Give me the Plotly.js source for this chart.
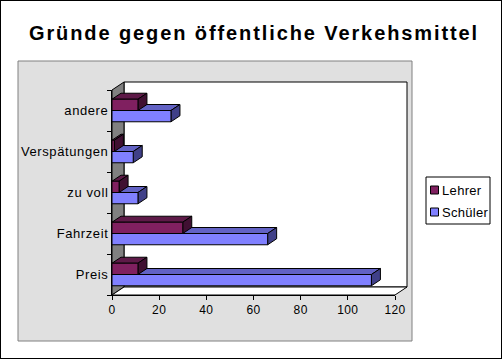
<!DOCTYPE html>
<html>
<head>
<meta charset="utf-8">
<script src="https://cdn.plot.ly/plotly-3.0.1.min.js"></script>
<style>
  html, body { margin: 0; padding: 0; background: #ffffff; }
  #wrap { position: relative; width: 502px; height: 359px; }
  #chart { position: absolute; left: 0; top: 0; width: 502px; height: 359px; }
  #frame { position: absolute; left: 0; top: 0; width: 502px; height: 359px; box-sizing: border-box; border: 1px solid #000; pointer-events: none; }
  #chart .gtitle { letter-spacing: 1.9px; }
  #chart .ytick text { letter-spacing: 0.6px; }
  #chart .xtick text { letter-spacing: 0.4px; }
  #chart .annotation-text { letter-spacing: 0.3px; }
</style>
</head>
<body>
<div id="wrap"><div id="chart"></div><div id="frame"></div></div>
<script>
// ---- data ----
const categories = ['Preis', 'Fahrzeit', 'zu voll', 'Verspätungen', 'andere'];
const lehrer = [11, 30, 3, 1, 11];
const schueler = [110, 66, 11, 9, 25];
const seriesNames = ['Lehrer', 'Schüler'];
const xTicks = [0, 20, 40, 60, 80, 100, 120];

// ---- geometry / style ----
const W = 502, H = 359;
const M = {l: 112, r: 107, t: 90, b: 64, autoexpand: false};
const plotW = W - M.l - M.r, plotH = H - M.t - M.b;
const xMax = 120;
const nCat = categories.length;
const bargap = 0.45;
const barW = (1 - bargap) / 2;
const barDepth = {dx: 9, dy: 6};
const wallDepth = {dx: 12, dy: 8};
const uX = xMax / plotW;
const uY = nCat / plotH;

const colors = {
  Lehrer: {front: '#802060', top: '#5e1a48', side: '#401032'},
  'Schüler': {front: '#8080ff', top: '#6262c4', side: '#404088'}
};

// page pixel -> paper coordinates
const pX = px => (px - M.l) / plotW;
const pY = py => (M.t + plotH - py) / plotH;
const dpX = px => px / plotW;
const dpY = py => py / plotH;

const shapes = [];
// gray chart area
shapes.push({type: 'rect', xref: 'paper', yref: 'paper', layer: 'below',
  x0: pX(18), x1: pX(412), y0: pY(341), y1: pY(61),
  fillcolor: '#e0e0e0', line: {color: '#808080', width: 1}});
// back wall
shapes.push({type: 'rect', xref: 'paper', yref: 'paper', layer: 'below',
  x0: dpX(wallDepth.dx), x1: 1 + dpX(wallDepth.dx), y0: dpY(wallDepth.dy), y1: 1 + dpY(wallDepth.dy),
  fillcolor: '#ffffff', line: {color: '#000000', width: 1}});
// left wall
shapes.push({type: 'path', xref: 'paper', yref: 'paper', layer: 'below',
  path: `M0,0 L0,1 L${dpX(wallDepth.dx)},${1 + dpY(wallDepth.dy)} L${dpX(wallDepth.dx)},${dpY(wallDepth.dy)} Z`,
  fillcolor: '#808080', line: {color: '#000000', width: 1}});
// floor
shapes.push({type: 'path', xref: 'paper', yref: 'paper', layer: 'below',
  path: `M0,0 L1,0 L${1 + dpX(wallDepth.dx)},${dpY(wallDepth.dy)} L${dpX(wallDepth.dx)},${dpY(wallDepth.dy)} Z`,
  fillcolor: '#ffffff', line: {color: '#000000', width: 1}});

// 3D faces of bars (computed from the data values)
const dX = barDepth.dx * uX, dY = barDepth.dy * uY;
function faces(vals, name, offset) {
  vals.forEach((v, i) => {
    const y0 = i + offset, y1 = y0 + barW;
    shapes.push({type: 'path', xref: 'x', yref: 'y', layer: 'below',
      path: `M0,${y1} L${v},${y1} L${v + dX},${y1 + dY} L${dX},${y1 + dY} Z`,
      fillcolor: colors[name].top, line: {color: '#000000', width: 1}});
    shapes.push({type: 'path', xref: 'x', yref: 'y', layer: 'below',
      path: `M${v},${y0} L${v},${y1} L${v + dX},${y1 + dY} L${v + dX},${y0 + dY} Z`,
      fillcolor: colors[name].side, line: {color: '#000000', width: 1}});
  });
}
faces(schueler, 'Schüler', -barW);
faces(lehrer, 'Lehrer', 0);

const font = {family: 'Liberation Sans, Arial, sans-serif', color: '#000000'};

// legend (box, swatches, labels)
const legendBox = {x0: 426, x1: 490, y0: 177, y1: 224};
const legendRows = [190, 212];
const annotations = [];
shapes.push({type: 'rect', xref: 'paper', yref: 'paper', layer: 'above',
  x0: pX(legendBox.x0), x1: pX(legendBox.x1), y0: pY(legendBox.y1), y1: pY(legendBox.y0),
  fillcolor: '#ffffff', line: {color: '#000000', width: 1}});
seriesNames.forEach((name, k) => {
  const cy = legendRows[k];
  shapes.push({type: 'rect', xref: 'paper', yref: 'paper', layer: 'above',
    x0: pX(430.5), x1: pX(438.5), y0: pY(cy + 4), y1: pY(cy - 4),
    fillcolor: colors[name].front, line: {color: '#000000', width: 1}});
  annotations.push({xref: 'paper', yref: 'paper', x: pX(441), y: pY(cy),
    xanchor: 'left', yanchor: 'middle', showarrow: false, text: name,
    font: Object.assign({size: 13}, font)});
});

const traces = [
  {type: 'bar', orientation: 'h', name: 'Schüler', y: categories, x: schueler,
   marker: {color: colors['Schüler'].front, line: {color: '#000000', width: 1}}},
  {type: 'bar', orientation: 'h', name: 'Lehrer', y: categories, x: lehrer,
   marker: {color: colors.Lehrer.front, line: {color: '#000000', width: 1}}}
];

const layout = {
  width: W, height: H,
  margin: M,
  paper_bgcolor: '#ffffff',
  plot_bgcolor: 'rgba(0,0,0,0)',
  barmode: 'group',
  bargap: bargap,
  bargroupgap: 0,
  showlegend: false,
  font: Object.assign({size: 12}, font),
  title: {
    text: 'Gründe gegen öffentliche Verkehsmittel',
    font: Object.assign({size: 20, weight: 'bold'}, font),
    xref: 'container', yref: 'container', x: 0.506, y: 1 - 33 / H,
    xanchor: 'center', yanchor: 'middle'
  },
  xaxis: {
    range: [0, xMax], tickvals: xTicks, ticktext: xTicks.map(String),
    showgrid: false, zeroline: false, showline: true, linecolor: '#000000', linewidth: 1,
    ticks: 'outside', ticklen: 4, tickcolor: '#000000',
    tickfont: Object.assign({size: 12}, font), fixedrange: true
  },
  yaxis: {
    type: 'category', categoryorder: 'array', categoryarray: categories,
    range: [-0.5, nCat - 0.5],
    showgrid: false, zeroline: false, showline: true, linecolor: '#000000', linewidth: 1,
    ticks: 'outside', ticklen: 4, tickcolor: '#000000', tickson: 'boundaries',
    tickfont: Object.assign({size: 13}, font), fixedrange: true
  },
  shapes: shapes,
  annotations: annotations
};

Plotly.newPlot('chart', traces, layout, {displayModeBar: false, staticPlot: true});
</script>
</body>
</html>
